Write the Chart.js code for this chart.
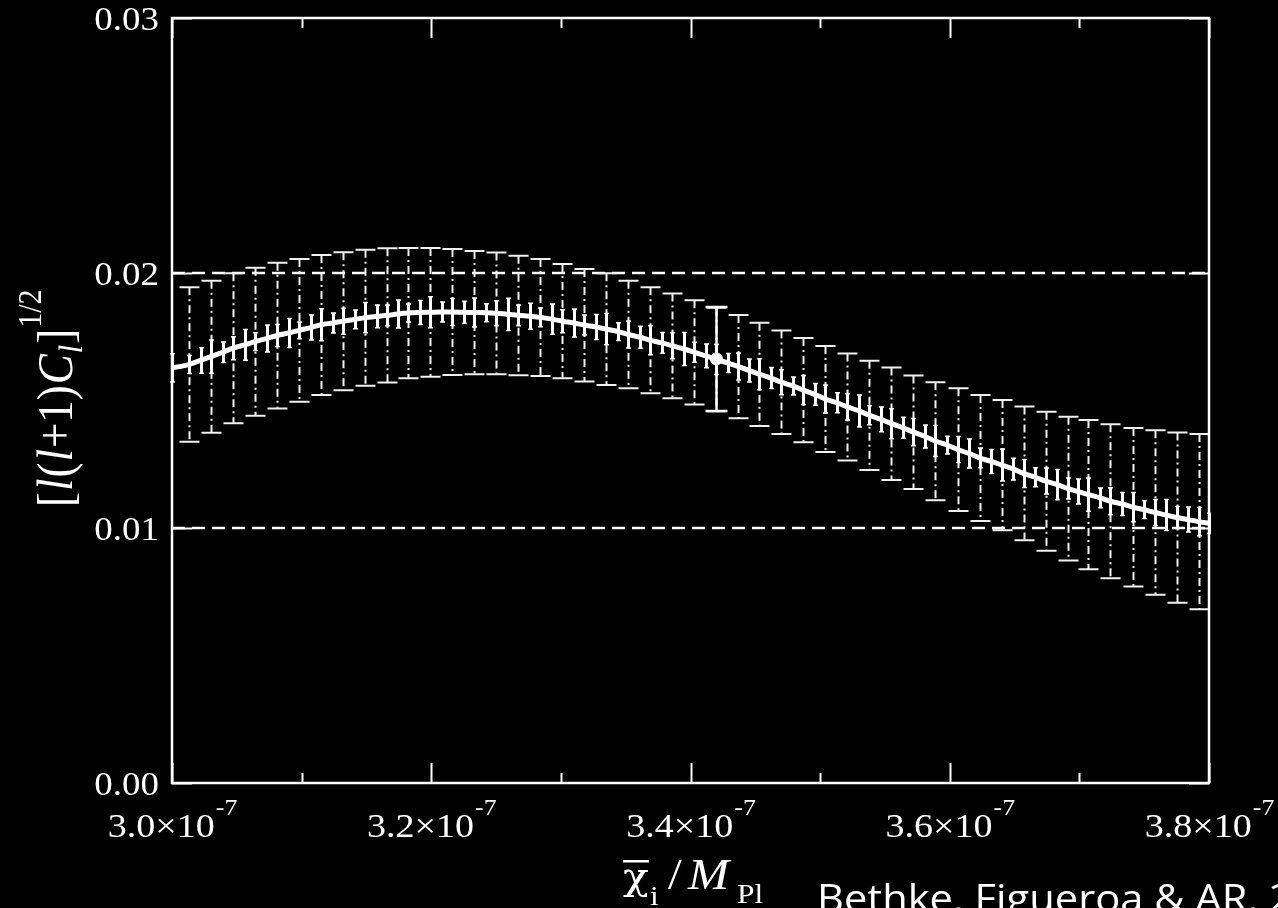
<!DOCTYPE html>
<html>
<head>
<meta charset="utf-8">
<title>Angular power vs initial field value</title>
<style>
  html, body { margin: 0; padding: 0; background: #000; }
  #wrap { width: 1278px; height: 908px; position: relative; overflow: hidden; }
  canvas { display: block; }
</style>
<script src="https://cdn.jsdelivr.net/npm/chart.js@4.4.0/dist/chart.umd.min.js"></script>
</head>
<body>
<div id="wrap"><canvas id="chart" width="1278" height="908"></canvas></div>
<script>
// Initial field value chi_i / M_Pl, in units of 1e-7.
// Wide error bars (ensemble spread) at each sampled field value.
const barChi = [3.013,3.030,3.047,3.064,3.081,3.098,3.115,3.132,3.149,3.166,3.182,3.199,3.216,3.233,3.250,3.267,3.284,3.301,3.318,3.335,3.352,3.369,3.386,3.403,3.420,3.437,3.453,3.470,3.487,3.504,3.521,3.538,3.555,3.572,3.589,3.606,3.623,3.640,3.657,3.674,3.691,3.707,3.724,3.741,3.758,3.775,3.792];
const barLow = [0.01338,0.01374,0.01411,0.01440,0.01469,0.01495,0.01522,0.01540,0.01558,0.01571,0.01587,0.01593,0.01600,0.01603,0.01603,0.01599,0.01596,0.01587,0.01575,0.01561,0.01548,0.01528,0.01509,0.01484,0.01458,0.01430,0.01400,0.01369,0.01336,0.01298,0.01265,0.01227,0.01188,0.01153,0.01109,0.01067,0.01027,0.00991,0.00952,0.00911,0.00873,0.00838,0.00803,0.00771,0.00738,0.00707,0.00681];
const barHigh = [0.01944,0.01970,0.01999,0.02021,0.02040,0.02055,0.02071,0.02081,0.02091,0.02097,0.02098,0.02098,0.02094,0.02086,0.02080,0.02068,0.02055,0.02035,0.02016,0.01999,0.01970,0.01944,0.01920,0.01893,0.01864,0.01835,0.01805,0.01775,0.01745,0.01714,0.01684,0.01656,0.01629,0.01598,0.01572,0.01548,0.01522,0.01502,0.01476,0.01456,0.01436,0.01424,0.01407,0.01392,0.01383,0.01375,0.01369];

// Mean amplitude [l(l+1)C_l]^{1/2} and its small statistical error.
const curveChi = [3.000,3.013,3.022,3.030,3.039,3.047,3.056,3.064,3.073,3.081,3.090,3.098,3.107,3.115,3.124,3.132,3.141,3.149,3.158,3.166,3.174,3.182,3.191,3.199,3.208,3.216,3.225,3.233,3.242,3.250,3.259,3.267,3.276,3.284,3.293,3.301,3.310,3.318,3.327,3.335,3.344,3.352,3.361,3.369,3.378,3.386,3.395,3.403,3.412,3.420,3.429,3.437,3.445,3.453,3.462,3.470,3.479,3.487,3.496,3.504,3.513,3.521,3.530,3.538,3.547,3.555,3.564,3.572,3.581,3.589,3.598,3.606,3.615,3.623,3.632,3.640,3.649,3.657,3.666,3.674,3.683,3.691,3.699,3.707,3.716,3.724,3.733,3.741,3.750,3.758,3.767,3.775,3.784,3.792,3.800];
const curveAmp = [0.01628,0.01641,0.01657,0.01672,0.01689,0.01705,0.01718,0.01731,0.01743,0.01755,0.01765,0.01775,0.01786,0.01797,0.01804,0.01811,0.01818,0.01825,0.01830,0.01834,0.01839,0.01843,0.01845,0.01846,0.01847,0.01847,0.01846,0.01845,0.01844,0.01842,0.01838,0.01834,0.01830,0.01826,0.01819,0.01811,0.01804,0.01796,0.01788,0.01780,0.01770,0.01759,0.01748,0.01736,0.01726,0.01715,0.01702,0.01689,0.01675,0.01661,0.01647,0.01633,0.01618,0.01603,0.01588,0.01572,0.01557,0.01541,0.01524,0.01506,0.01491,0.01475,0.01459,0.01442,0.01426,0.01409,0.01393,0.01376,0.01359,0.01341,0.01325,0.01308,0.01292,0.01275,0.01261,0.01247,0.01231,0.01214,0.01199,0.01184,0.01170,0.01155,0.01143,0.01131,0.01118,0.01105,0.01094,0.01082,0.01072,0.01061,0.01051,0.01041,0.01033,0.01025,0.01018];
const curveErr = [0.00055,0.00035,0.00050,0.00065,0.00040,0.00045,0.00060,0.00035,0.00053,0.00043,
                  0.00057,0.00033,0.00049,0.00063,0.00039,0.00051,0.00037,0.00059,0.00045,0.00041,
                  0.00055,0.00035,0.00047,0.00061,0.00039,0.00053,0.00043,0.00057,0.00035,0.00049,
                  0.00063,0.00041,0.00051,0.00037,0.00059,0.00045,0.00055,0.00039,0.00049,0.00061,
                  0.00035,0.00053,0.00043,0.00057,0.00041,0.00051,0.00065,0.00039,0.00047,0.00059,
                  0.00037,0.00053,0.00045,0.00061,0.00041,0.00049,0.00035,0.00057,0.00043,0.00055,
                  0.00039,0.00051,0.00063,0.00037,0.00049,0.00059,0.00041,0.00053,0.00045,0.00061,
                  0.00035,0.00051,0.00057,0.00039,0.00047,0.00063,0.00043,0.00055,0.00037,0.00051,
                  0.00059,0.00041,0.00049,0.00065,0.00039,0.00053,0.00045,0.00057,0.00035,0.00051,
                  0.00061,0.00043,0.00049,0.00055,0.00040];

// Highlighted single run.
const markChi = [3.420];
const markAmp = [0.01663];
const markLow = [0.01459];
const markHigh = [0.01867];

// Horizontal reference levels.
const refLevels = [0.01, 0.02];

// Axis ticks and labels.
const xRange = [3.0, 3.8];
const yRange = [0.0, 0.03];
const xMajorTicks = [3.0, 3.2, 3.4, 3.6, 3.8];
const xMinorTicks = [3.1, 3.3, 3.5, 3.7];
const xTickLabels = ['3.0', '3.2', '3.4', '3.6', '3.8'];
const xTickExponent = '-7';
const yTicks = [0.00, 0.01, 0.02, 0.03];
const yTickLabels = ['0.00', '0.01', '0.02', '0.03'];

const WHITE = '#ffffff';
const SERIF = '"Liberation Serif", "DejaVu Serif", serif';
const TEXT_SX = 1.12;   // glyphs are drawn slightly widened

const toPts = (xs, ys) => xs.map((x, i) => ({ x: x, y: ys[i] }));

// Draws error bars for any dataset that carries an errorBars block.
const errorBarPlugin = {
  id: 'errorBars',
  afterDatasetDraw(chart, args) {
    const ds = chart.data.datasets[args.index];
    const eb = ds.errorBars;
    if (!eb) return;
    const ctx = chart.ctx;
    const ys = chart.scales.y;
    const area = chart.chartArea;
    ctx.save();
    ctx.beginPath();
    ctx.rect(area.left - 2, area.top - 2, area.right - area.left + 4, area.bottom - area.top + 4);
    ctx.clip();
    ctx.strokeStyle = eb.color;
    ctx.lineCap = 'butt';
    args.meta.data.forEach((pt, i) => {
      const px = Math.round(pt.x) + 0.5;
      const pLo = ys.getPixelForValue(eb.low[i]);
      const pHi = ys.getPixelForValue(eb.high[i]);
      ctx.lineWidth = eb.width;
      ctx.setLineDash(eb.dash || []);
      ctx.beginPath();
      ctx.moveTo(px, pHi);
      ctx.lineTo(px, pLo);
      ctx.stroke();
      if (eb.cap > 0) {
        ctx.setLineDash([]);
        ctx.lineWidth = eb.capWidth;
        ctx.beginPath();
        ctx.moveTo(px - eb.cap / 2, pHi); ctx.lineTo(px + eb.cap / 2, pHi);
        ctx.moveTo(px - eb.cap / 2, pLo); ctx.lineTo(px + eb.cap / 2, pLo);
        ctx.stroke();
      }
    });
    ctx.restore();
  }
};

function widenedText(ctx, str, x, y, font, align) {
  ctx.save();
  ctx.font = font;
  const w = ctx.measureText(str).width * TEXT_SX;
  const x0 = align === 'right' ? x - w : align === 'center' ? x - w / 2 : x;
  ctx.translate(x0, y);
  ctx.scale(TEXT_SX, 1);
  ctx.textAlign = 'left';
  ctx.textBaseline = 'alphabetic';
  ctx.fillText(str, 0, 0);
  ctx.restore();
  return w;
}

// Frame, inward ticks, tick labels and axis titles.
const framePlugin = {
  id: 'frame',
  afterDraw(chart) {
    const ctx = chart.ctx;
    const xs = chart.scales.x, ys = chart.scales.y;
    const a = chart.chartArea;
    ctx.save();
    ctx.strokeStyle = WHITE;
    ctx.fillStyle = WHITE;
    ctx.setLineDash([]);

    // tick marks pointing into the plot on all four sides
    ctx.lineWidth = 2;
    ctx.beginPath();
    const xTick = (v, len) => {
      const px = Math.round(xs.getPixelForValue(v)) + 0.5;
      ctx.moveTo(px, a.bottom); ctx.lineTo(px, a.bottom - len);
      ctx.moveTo(px, a.top); ctx.lineTo(px, a.top + len);
    };
    xMajorTicks.forEach(v => xTick(v, 20));
    xMinorTicks.forEach(v => xTick(v, 10));
    yTicks.forEach(v => {
      const py = Math.round(ys.getPixelForValue(v)) + 0.5;
      ctx.moveTo(a.left, py); ctx.lineTo(a.left + 20, py);
      ctx.moveTo(a.right, py); ctx.lineTo(a.right - 20, py);
    });
    ctx.stroke();

    // plot frame
    ctx.lineWidth = 2.5;
    ctx.strokeRect(a.left, a.top, a.right - a.left, a.bottom - a.top);

    // y tick labels
    yTicks.forEach((v, i) => {
      const py = ys.getPixelForValue(v);
      widenedText(ctx, yTickLabels[i], a.left - 13, py + 12, '33px ' + SERIF, 'right');
    });

    // x tick labels: mantissa x 10 with raised exponent
    xMajorTicks.forEach((v, i) => {
      const px = xs.getPixelForValue(v);
      const main = xTickLabels[i] + '\u00d710';
      ctx.font = '34px ' + SERIF;
      const w1 = ctx.measureText(main).width * TEXT_SX;
      ctx.font = '23px ' + SERIF;
      const w2 = ctx.measureText(xTickExponent).width * TEXT_SX;
      const x0 = px - (w1 + w2) / 2;
      widenedText(ctx, main, x0, 837, '34px ' + SERIF, 'left');
      widenedText(ctx, xTickExponent, x0 + w1 + 1, 815, '23px ' + SERIF, 'left');
    });

    // x axis title: chi-bar_i / M_Pl
    widenedText(ctx, '\u03c7', 623, 889, '38px "DejaVu Serif", serif', 'left');
    ctx.fillRect(623, 860, 26, 2.5);
    widenedText(ctx, 'i', 650, 905, '28px ' + SERIF, 'left');
    widenedText(ctx, '/', 668, 889, '44px ' + SERIF, 'left');
    widenedText(ctx, 'M', 688, 889, 'italic 44px ' + SERIF, 'left');
    widenedText(ctx, 'Pl', 737, 903, '28px ' + SERIF, 'left');

    // y axis title: [l(l+1)C_l]^{1/2}, rotated
    ctx.save();
    ctx.translate(72, 507);
    ctx.rotate(-Math.PI / 2);
    ctx.scale(1, TEXT_SX);
    ctx.textBaseline = 'alphabetic';
    const runs = [
      { t: '[', f: '45px ' + SERIF, dy: 0 },
      { t: 'l', f: 'italic 45px ' + SERIF, dy: 0 },
      { t: '(', f: '45px ' + SERIF, dy: 0 },
      { t: 'l', f: 'italic 45px ' + SERIF, dy: 0 },
      { t: '+1)', f: '45px ' + SERIF, dy: 0 },
      { t: 'C', f: 'italic 45px ' + SERIF, dy: 0 },
      { t: 'l', f: 'italic 30px ' + SERIF, dy: 9 },
      { t: ']', f: '45px ' + SERIF, dy: 0 },
      { t: '1/2', f: '30px ' + SERIF, dy: -28 }
    ];
    let cx = 0;
    runs.forEach(r => {
      ctx.font = r.f;
      ctx.fillText(r.t, cx, r.dy);
      cx += ctx.measureText(r.t).width + 1;
    });
    ctx.restore();

    // credit line along the bottom edge
    ctx.save();
    const credit = 'Bethke, Figueroa & AR, 2013';
    ctx.font = '38px "Open Sans", Lato, sans-serif';
    const lead = ctx.measureText('Bethke, Figueroa & AR, ').width;
    const sx = 452 / lead;
    ctx.translate(817, 912);
    ctx.scale(sx, 1);
    ctx.fillText(credit, 0, 0);
    ctx.restore();

    ctx.restore();
  }
};

const refData = refLevels.map(v => [{ x: xRange[0], y: v }, { x: xRange[1], y: v }]);

new Chart(document.getElementById('chart'), {
  type: 'scatter',
  data: {
    datasets: [
      {
        label: 'single run',
        data: toPts(markChi, markAmp),
        order: 0,
        showLine: false,
        pointRadius: 6,
        pointBackgroundColor: WHITE,
        pointBorderColor: WHITE,
        errorBars: { low: markLow, high: markHigh, color: WHITE, width: 2.5, cap: 22, capWidth: 2.5 }
      },
      {
        label: 'mean',
        data: toPts(curveChi, curveAmp),
        order: 1,
        showLine: true,
        borderColor: WHITE,
        borderWidth: 5,
        pointRadius: 0,
        cubicInterpolationMode: 'monotone',
        errorBars: {
          low: curveAmp.map((v, i) => v - curveErr[i]),
          high: curveAmp.map((v, i) => v + curveErr[i]),
          color: WHITE, width: 3, cap: 5, capWidth: 1.5
        }
      },
      {
        label: 'spread',
        data: toPts(barChi, barLow.map((v, i) => (v + barHigh[i]) / 2)),
        order: 2,
        showLine: false,
        pointRadius: 0,
        errorBars: { low: barLow, high: barHigh, color: '#f2f2f2', width: 2, dash: [8, 4, 2, 4], cap: 20, capWidth: 2 }
      },
      {
        label: 'level 0.01',
        data: refData[0],
        order: 3,
        showLine: true,
        borderColor: WHITE,
        borderWidth: 2.5,
        borderDash: [13, 7],
        pointRadius: 0
      },
      {
        label: 'level 0.02',
        data: refData[1],
        order: 3,
        showLine: true,
        borderColor: WHITE,
        borderWidth: 2.5,
        borderDash: [13, 7],
        pointRadius: 0
      }
    ]
  },
  options: {
    responsive: false,
    animation: false,
    devicePixelRatio: 1,
    layout: { padding: { left: 172, right: 69, top: 18, bottom: 125 } },
    plugins: { legend: { display: false }, tooltip: { enabled: false } },
    scales: {
      x: { type: 'linear', min: xRange[0], max: xRange[1], display: false },
      y: { type: 'linear', min: yRange[0], max: yRange[1], display: false }
    }
  },
  plugins: [errorBarPlugin, framePlugin]
});
</script>
</body>
</html>
